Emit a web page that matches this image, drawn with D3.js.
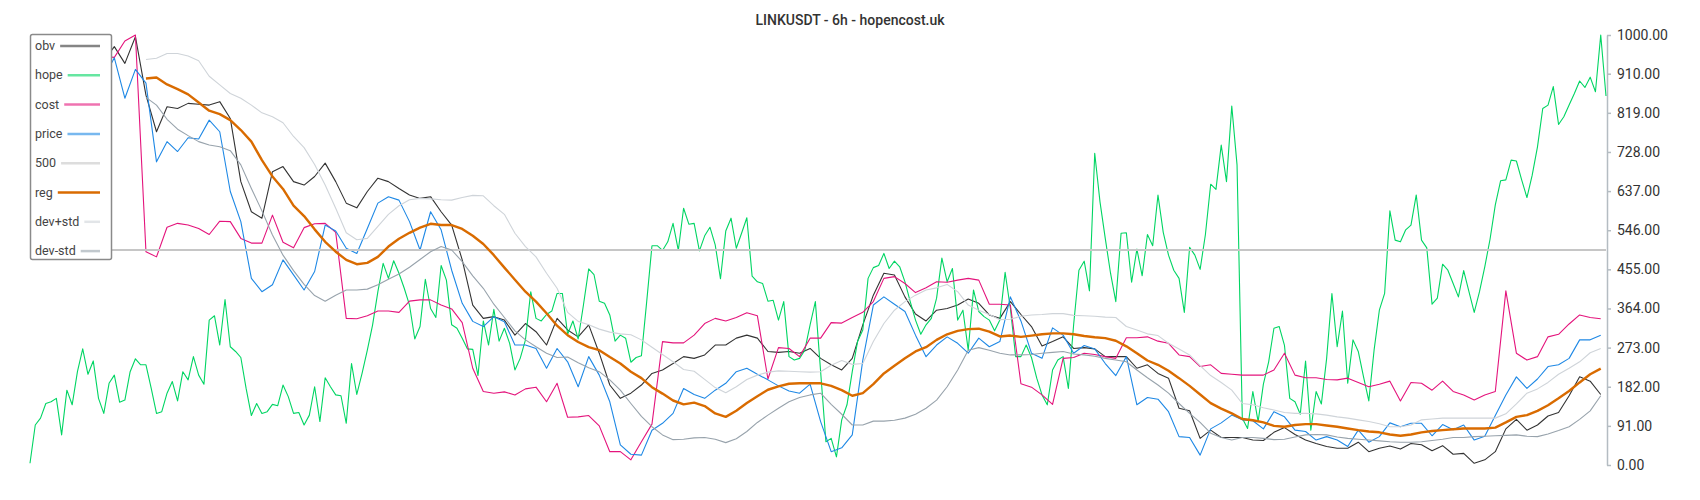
<!DOCTYPE html>
<meta charset="utf-8">
<script src="https://d3js.org/d3.v7.min.js"></script>
<style>
  body { margin: 0; background: #fff; }
  text { font-family: Roboto, "Noto Sans", sans-serif; }
</style>
<div id="chart"></div>
<script>
// hope: one value per candle (300 candles)
const hope = [
  4, 93, 109, 143, 147, 155, 70, 174, 140, 217, 270, 211, 242, 155, 120, 190, 209, 146, 151, 217,
  247, 233, 233, 178, 120, 124, 167, 194, 149, 217, 198, 252, 209, 188, 337, 347, 279, 385, 275, 264,
  250, 178, 115, 143, 120, 124, 141, 138, 186, 159,
  120, 122, 93, 116, 182, 101, 203, 182, 163, 161, 97, 236, 164, 213, 267, 326, 403, 469, 434, 475,
  446, 411, 372, 293, 322, 432, 364, 343, 464, 430, 326, 318, 295, 270, 269, 208, 335, 279, 362, 288,
  318, 283, 221, 248, 291, 403, 341, 335, 350,
  358, 399, 399, 304, 335, 293, 372, 456, 443, 381, 376, 349, 288, 302, 295, 239, 250, 254, 380, 510,
  510, 499, 519, 562, 499, 597, 560, 562, 498, 533, 553, 512, 433, 544, 574, 504, 539, 575, 439, 426,
  422, 381, 383, 337, 380, 252, 244, 248, 267,
  326, 380, 217, 54, 62, 19, 105, 140, 217, 287, 314, 434, 459, 464, 492, 457, 474, 461, 426, 380,
  337, 304, 326, 341, 388, 481, 426, 457, 337, 360, 267, 407, 357, 345, 337, 312, 337, 448, 364, 252,
  252, 279, 250, 202, 163, 140, 221, 244, 252, 178,
  326, 453, 474, 405, 725, 612, 527, 446, 380, 539, 540, 425, 502, 440, 536, 510, 628, 541, 488, 453,
  434, 355, 506, 488, 455, 536, 653, 641, 744, 659, 835, 698, 109, 85, 171, 101, 188, 240, 318, 322,
  278, 155, 147, 118, 242, 81, 171, 142, 248,
  399, 275, 358, 190, 291, 264, 205, 149, 267, 360, 399, 591, 523, 519, 547, 558, 628, 523, 505, 374,
  388, 467, 453, 422, 391, 452, 403, 355, 403, 461, 525, 605, 661, 663, 709, 707, 663, 622, 674, 740,
  829, 837, 880, 792, 810, 837, 864, 893, 878, 902, 868, 1000, 858
];

// the other series are read every 2nd candle
const step = 2;
const mainStart = 14;   // obv, cost, price start (hidden under legend)
const bandStart = 22;   // reg and bands start

const obv = [
  940, 973, 934, 996, 860, 775, 833, 829, 841, 839, 837, 845, 806, 659, 589, 574, 682, 694,
  659, 651, 671, 702, 659, 609, 598, 636, 667, 659, 643, 628, 620, 624, 589, 558, 477, 372, 341, 345, 337, 302, 329, 310, 279,
  341, 314, 298, 326, 260, 186, 155, 167, 186, 213, 221, 236, 252, 248, 256, 279, 279, 295, 302, 295, 264, 262, 264, 260, 271,
  248, 233, 221, 248, 326, 395, 446, 442, 391, 351, 335, 360, 364, 372, 386, 376, 349, 341, 380, 350, 322, 277, 287, 298,
  271, 273, 270, 252, 252, 252, 225, 233, 213, 202, 132, 126, 62, 81, 64, 64, 64, 58, 57, 76, 87, 71, 58, 50, 43,
  39, 39, 53, 31, 39, 44, 37, 50, 47, 33, 45, 25, 27, 4, 12, 31, 84, 106, 81, 93, 114, 122, 161, 205, 195, 164
];

const cost = [
  950, 948, 986, 1000, 496, 484, 553, 562, 558, 550, 536, 567, 566, 527, 516, 516, 581, 518,
  505, 552, 561, 562, 541, 341, 340, 347, 358, 358, 355, 381, 384, 384, 372, 363, 331, 225, 171, 167, 170, 163, 177, 181, 147,
  190, 111, 112, 115, 91, 31, 31, 12, 54, 95, 287, 284, 284, 302, 329, 341, 335, 343, 354, 347, 200, 273, 271, 252, 295,
  295, 331, 330, 343, 355, 380, 434, 438, 422, 401, 412, 426, 425, 430, 434, 430, 374, 374, 372, 189, 181, 163, 141, 248,
  250, 260, 257, 252, 248, 296, 296, 298, 288, 283, 256, 252, 229, 233, 213, 211, 209, 209, 209, 221, 260, 209, 203, 203, 199,
  198, 202, 192, 182, 188, 195, 149, 192, 190, 174, 195, 171, 163, 151, 163, 171, 405, 260, 244, 252, 298, 304, 328, 349, 343, 340
];

const price = [
  900, 947, 853, 920, 888, 705, 752, 729, 761, 758, 802, 775, 636, 566, 434, 403, 419, 477,
  442, 407, 450, 558, 544, 504, 492, 550, 609, 624, 616, 566, 500, 589, 547, 453, 376, 334, 322, 345, 333, 279, 279, 271, 225,
  271, 240, 182, 252, 209, 147, 47, 25, 23, 81, 97, 120, 178, 164, 155, 174, 190, 217, 225, 211, 198, 184, 172, 167, 188,
  101, 31, 40, 70, 244, 372, 391, 374, 357, 302, 252, 279, 298, 283, 260, 295, 275, 287, 391, 335, 260, 248, 319, 302,
  260, 278, 270, 236, 208, 252, 140, 157, 153, 124, 66, 64, 23, 84, 98, 116, 105, 103, 84, 124, 112, 81, 78, 58, 66,
  58, 43, 81, 53, 66, 98, 89, 97, 97, 68, 94, 82, 93, 58, 67, 115, 163, 205, 178, 200, 229, 233, 248, 291, 291, 302
];

const reg = [
  899, 901, 885, 874, 862, 843, 824, 816, 802, 779, 752, 709, 671, 642,
  603, 579, 548, 519, 496, 477, 467, 470, 484, 508, 526, 540, 552, 561, 558, 558, 549, 533, 514, 488, 459, 431, 403, 380, 353,
  324, 302, 286, 274, 267, 251, 236, 217, 202, 181, 166, 150, 141, 145, 137, 120, 112, 126, 144, 160, 175, 183, 189, 190, 190,
  190, 184, 174, 161, 167, 188, 213, 231, 248, 264, 274, 291, 304, 312, 316, 317, 310, 299, 301, 298, 301, 304, 306, 306,
  304, 300, 297, 295, 289, 276, 260, 243, 233, 219, 202, 184, 164, 144, 131, 120, 107, 104, 99, 91, 89, 93, 95, 95, 92,
  89, 85, 81, 78, 76, 71, 68, 71, 76, 79, 81, 83, 85, 85, 85, 87, 99, 112, 116, 126, 139, 155, 172, 192, 211, 224
];

const devPlus = [
  943, 946, 957, 957, 951, 940, 904, 884, 864, 853, 837, 819, 810, 796,
  764, 738, 699, 651, 597, 540, 524, 527, 555, 583, 603, 617, 620, 619, 617, 616, 622, 627, 626, 603, 583, 539, 508, 484, 446,
  411, 355, 334, 326, 316, 309, 305, 303, 291, 274, 257, 240, 222, 218, 199, 180, 168, 182, 199, 209, 216, 219, 218, 217, 216,
  217, 232, 243, 234, 236, 287, 329, 360, 380, 395, 407, 412, 420, 403, 372, 360, 350, 338, 339, 346, 349, 350, 352, 352,
  348, 347, 346, 344, 343, 322, 314, 305, 301, 283, 270, 256, 231, 208, 192, 174, 143, 140, 133, 128, 122, 120, 120, 119, 116,
  112, 109, 105, 101, 96, 89, 89, 93, 105, 107, 109, 109, 109, 109, 109, 109, 119, 142, 167, 177, 192, 211, 225, 240, 261, 271
];

const devMinus = [
  855, 837, 804, 781, 766, 752, 744, 740, 731, 698, 643, 591, 535, 488,
  452, 420, 394, 381, 395, 407, 407, 409, 419, 432, 444, 460, 478, 496, 508, 500, 473, 440, 411, 374, 343, 312, 291, 275, 260,
  250, 251, 238, 226, 217, 198, 174, 143, 113, 89, 70, 59, 60, 63, 64, 60, 52, 61, 78, 99, 116, 132, 147, 157, 163,
  167, 141, 118, 93, 93, 102, 102, 104, 109, 118, 132, 151, 182, 221, 267, 273, 267, 260, 256, 256, 257, 260, 262, 264,
  258, 256, 253, 248, 244, 240, 221, 203, 186, 167, 143, 120, 99, 74, 64, 58, 64, 64, 62, 59, 60, 65, 70, 71, 70,
  65, 62, 60, 58, 56, 54, 53, 53, 54, 57, 60, 64, 64, 66, 67, 68, 69, 70, 67, 66, 72, 80, 89, 106, 126, 161
];

const levelLine = [500, 500];   // "500" series, first and last candle

const yTicks = [0, 91, 182, 273, 364, 455, 546, 637, 728, 819, 910, 1000];
const legendNames = ["obv", "hope", "cost", "price", "500", "reg", "dev+std", "dev-std"];
const colors = {
  "obv": "#333333", "hope": "#00d563", "cost": "#e4147c", "price": "#1e88e5",
  "500": "#c6c6c6", "reg": "#d96b00", "dev+std": "#cfd4d9", "dev-std": "#98a3ac"
};
const widths = { "obv": 1.1, "hope": 1.1, "cost": 1.1, "price": 1.1, "500": 2, "reg": 2.4, "dev+std": 1.1, "dev-std": 1.1 };

const W = 1700, H = 500;
const svg = d3.select("#chart").append("svg").attr("width", W).attr("height", H);

const x = d3.scaleLinear().domain([0, hope.length - 1]).range([30, 1606]);
const y = d3.scaleLinear().domain([0, 1000]).range([465, 35]);

// title
svg.append("text")
  .attr("x", W / 2).attr("y", 25)
  .attr("text-anchor", "middle")
  .style("font-size", "14px").style("font-weight", 500).style("fill", "#333")
  .text("LINKUSDT - 6h - hopencost.uk");

// right axis
const axis = svg.append("g")
  .attr("transform", "translate(1607,0)")
  .call(d3.axisRight(y).tickValues(yTicks).tickFormat(d => d.toFixed(2)).tickSize(4).tickSizeOuter(0).tickPadding(6));
axis.select(".domain").attr("stroke", "#b4bcc2").attr("stroke-width", 1.5);
axis.selectAll(".tick line").attr("stroke", "#b4bcc2").attr("stroke-width", 1.5);
axis.selectAll(".tick text").style("font-size", "14px").style("fill", "#333").style("font-family", "Roboto, sans-serif");

function drawSeries(values, start, stp, name) {
  const line = d3.line()
    .x((d, k) => x(start + k * stp))
    .y(d => y(d));
  svg.append("path")
    .datum(values)
    .attr("fill", "none")
    .attr("stroke", colors[name])
    .attr("stroke-width", widths[name])
    .attr("stroke-linejoin", "round")
    .attr("d", line);
}

drawSeries(obv, mainStart, step, "obv");
drawSeries(hope, 0, 1, "hope");
drawSeries(cost, mainStart, step, "cost");
drawSeries(price, mainStart, step, "price");
drawSeries(levelLine, 0, hope.length - 1, "500");
drawSeries(reg, bandStart, step, "reg");
drawSeries(devPlus, bandStart, step, "dev+std");
drawSeries(devMinus, bandStart, step, "dev-std");

// legend box (opaque, on top of lines)
const lg = svg.append("g");
lg.append("rect")
  .attr("x", 30.5).attr("y", 34.5).attr("width", 81).attr("height", 225)
  .attr("rx", 2)
  .attr("fill", "#fff").attr("stroke", "#8a8a8a").attr("stroke-width", 1.5);

legendNames.forEach((name, i) => {
  const cy = 46 + i * 29.3;
  const t = lg.append("text")
    .attr("x", 35).attr("y", cy + 4)
    .style("font-size", "12.5px").style("fill", "#444")
    .text(name);
  const tw = t.node().getComputedTextLength();
  lg.append("line")
    .attr("x1", 35 + tw + 5).attr("x2", 100)
    .attr("y1", cy).attr("y2", cy)
    .attr("stroke", colors[name])
    .attr("stroke-width", 2.5)
    .attr("stroke-opacity", name === "reg" ? 1 : 0.6);
});
</script>
